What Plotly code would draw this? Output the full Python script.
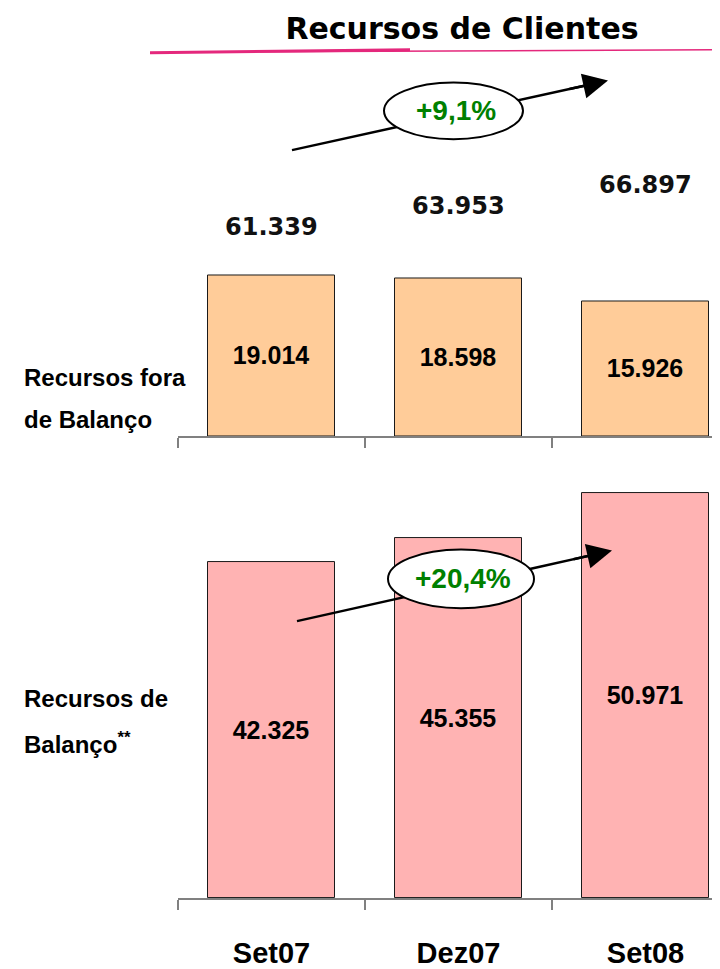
import plotly.graph_objects as go

# data (values in EUR millions)
categorias = ["Set07", "Dez07", "Set08"]
fora_balanco = [19014, 18598, 15926]
de_balanco = [42325, 45355, 50971]
totais = [61339, 63953, 66897]
crescimento_total = "+9,1%"
crescimento_balanco = "+20,4%"

# the page adds an 8px body margin, so the figure is 8px smaller than the window
OFF = 8
W, H = 720 - OFF, 969 - OFF
ARIAL = "Liberation Sans, Arial, sans-serif"
WIDE = "DejaVu Sans, Verdana, sans-serif"


def px(x):
    return (x - OFF) / W


def py(y):
    return 1 - (y - OFF) / H


def pt(v):
    return f"{v:,}".replace(",", ".")


fig = go.Figure()

fig.add_trace(go.Bar(
    x=categorias, y=fora_balanco, xaxis="x2", yaxis="y2",
    width=0.674, marker=dict(color="#FFCC99", line=dict(color="#1a1a1a", width=1)),
    text=[pt(v) for v in fora_balanco], textposition="inside",
    insidetextanchor="middle", textangle=0,
    textfont=dict(family=ARIAL, size=25, color="black", weight="bold"),
    hoverinfo="skip", showlegend=False,
))
fig.add_trace(go.Bar(
    x=categorias, y=de_balanco, xaxis="x", yaxis="y",
    width=0.674, marker=dict(color="#FFB3B3", line=dict(color="#1a1a1a", width=1)),
    text=[pt(v) for v in de_balanco], textposition="inside",
    insidetextanchor="middle", textangle=0,
    textfont=dict(family=ARIAL, size=25, color="black", weight="bold"),
    hoverinfo="skip", showlegend=False,
))

axis_x = dict(
    type="category", domain=[px(178), 1], range=[-0.5, -0.5 + (720 - 178) / 187],
    showline=True, linecolor="#808080", linewidth=1.5,
    ticks="outside", tickson="boundaries", ticklen=10, tickwidth=1.5, tickcolor="#808080",
    showgrid=False, zeroline=False, fixedrange=True,
)

fig.update_layout(
    width=W, height=H,
    margin=dict(l=0, r=0, t=0, b=0),
    paper_bgcolor="white", plot_bgcolor="white",
    separators=",.",
    bargap=0,
    xaxis=dict(axis_x, anchor="y", ticklabelstandoff=28,
               tickfont=dict(family=ARIAL, size=29, color="black", weight="bold")),
    xaxis2=dict(axis_x, anchor="y2", matches="x", showticklabels=False),
    yaxis=dict(domain=[py(904), py(480)], range=[0, 53000], visible=False, fixedrange=True),
    yaxis2=dict(domain=[py(439), py(250)], range=[0, 189 / 8.53 * 1000], visible=False, fixedrange=True),
    title=dict(text="Recursos de Clientes", x=px(462), xanchor="center",
               y=py(28), yanchor="middle", yref="container",
               font=dict(family=WIDE, size=30, color="black", weight="bold")),
)

# magenta hand-drawn underline
fig.add_shape(type="line", xref="paper", yref="paper", x0=px(150), y0=py(53), x1=px(410), y1=py(50),
              line=dict(color="#E4287C", width=3))
fig.add_shape(type="line", xref="paper", yref="paper", x0=px(260), y0=py(52), x1=px(720), y1=py(50),
              line=dict(color="#E4287C", width=1.5))

# totals above the stacks
tot_y = [228, 207, 186]
for c, v, yy in zip(categorias, totais, tot_y):
    fig.add_annotation(x=c, xref="x2", y=py(yy), yref="paper", text=pt(v), showarrow=False,
                       xanchor="center", yanchor="middle",
                       font=dict(family=WIDE, size=24, color="#111111", weight="bold"))

# side labels
side = [("Recursos fora", 380), ("de Balanço", 422), ("Recursos de", 703), ("Balanço<sup>**</sup>", 748)]
for txt, yy in side:
    fig.add_annotation(x=px(22), xref="paper", y=py(yy), yref="paper", text=txt, showarrow=False,
                       xanchor="left", yanchor="middle",
                       font=dict(family=ARIAL, size=24, color="black", weight="bold"))


def growth_arrow(start, tip, ell, label, size):
    x0, y0 = start
    x1, y1 = tip
    slope = (y1 - y0) / (x1 - x0)
    bx = x1 - 18
    fig.add_shape(type="line", xref="paper", yref="paper", x0=px(x0), y0=py(y0),
                  x1=px(bx), y1=py(y0 + slope * (bx - x0)), line=dict(color="black", width=2.5))
    fig.add_shape(type="circle", xref="paper", yref="paper",
                  x0=px(ell[0]), x1=px(ell[1]), y0=py(ell[3]), y1=py(ell[2]),
                  fillcolor="white", line=dict(color="black", width=2))
    fig.add_annotation(x=px(x1), y=py(y1), xref="paper", yref="paper", text="",
                       showarrow=True, arrowhead=2, arrowsize=2, arrowwidth=2.5, arrowcolor="black",
                       ax=-40, ay=-40 * slope, standoff=0)
    fig.add_annotation(x=px((ell[0] + ell[1]) / 2 + 2), y=py((ell[2] + ell[3]) / 2), xref="paper", yref="paper",
                       text=label, showarrow=False, xanchor="center", yanchor="middle",
                       font=dict(family=ARIAL, size=size, color="#008000", weight="bold"))


growth_arrow((292, 151), (608, 81), (384, 523, 83, 140), crescimento_total, 28)
growth_arrow((297, 625), (612, 554), (388, 534, 553, 612), crescimento_balanco, 28)

fig.write_html("out.html")
